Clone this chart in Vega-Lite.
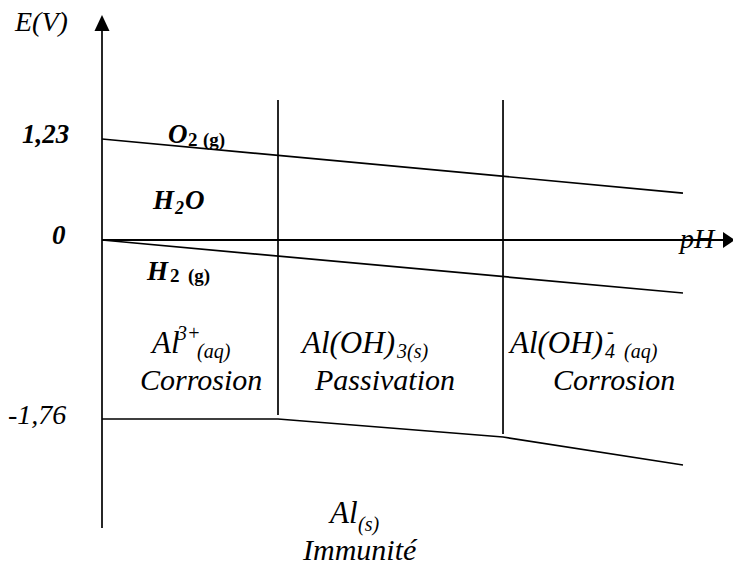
{
  "$schema": "https://vega.github.io/schema/vega-lite/v6.json",
  "width": 733,
  "height": 566,
  "autosize": {"type": "none"},
  "padding": 0,
  "background": "white",
  "config": {"view": {"stroke": null}},
  "datasets": {
    "boundaries": [
      {"boundary": "O2/H2O", "order": 1, "pH": 0, "E": 1.23},
      {"boundary": "O2/H2O", "order": 2, "pH": 14, "E": 0.572},
      {"boundary": "H2O/H2", "order": 1, "pH": 0, "E": 0},
      {"boundary": "H2O/H2", "order": 2, "pH": 14, "E": -0.521},
      {"boundary": "Al", "order": 1, "pH": 0, "E": -1.76},
      {"boundary": "Al", "order": 2, "pH": 4.241, "E": -1.76},
      {"boundary": "Al", "order": 3, "pH": 9.663, "E": -1.937},
      {"boundary": "Al", "order": 4, "pH": 14, "E": -2.212}
    ],
    "verticals": [
      {"name": "E axis", "pH": 0, "E": 2.545, "E2": -2.832},
      {"name": "Al3+/Al(OH)3", "pH": 4.241, "E": 1.705, "E2": -1.721},
      {"name": "Al(OH)3/Al(OH)4-", "pH": 9.663, "E": 1.705, "E2": -1.907}
    ],
    "haxis": [
      {"name": "pH axis", "pH": 0, "pH2": 14.964, "E": 0}
    ],
    "labels": [
      {"kind": "axis", "text": "E(V)", "pH": -2.096, "E": 2.545},
      {"kind": "axis", "text": "pH", "pH": 13.928, "E": -0.079},
      {"kind": "tickbold", "text": "1,23", "pH": -1.928, "E": 1.181},
      {"kind": "tickbold", "text": "0", "pH": -1.205, "E": -0.039},
      {"kind": "tick", "text": "-1,76", "pH": -2.265, "E": -1.809},
      {"kind": "gas", "text": "O", "pH": 1.59, "E": 1.181},
      {"kind": "gassub", "text": "2", "pH": 2.072, "E": 1.145},
      {"kind": "gassub", "text": "(g)", "pH": 2.434, "E": 1.145},
      {"kind": "gas", "text": "H", "pH": 1.229, "E": 0.378},
      {"kind": "watersub", "text": "2", "pH": 1.759, "E": 0.317},
      {"kind": "gas", "text": "O", "pH": 2.0, "E": 0.378},
      {"kind": "gas", "text": "H", "pH": 1.084, "E": -0.393},
      {"kind": "gassub", "text": "2", "pH": 1.639, "E": -0.413},
      {"kind": "gassub", "text": "(g)", "pH": 2.072, "E": -0.413},
      {"kind": "formula", "text": "Al", "pH": 1.205, "E": -1.111},
      {"kind": "formulasub", "text": "3+", "pH": 1.807, "E": -0.983},
      {"kind": "formulasub", "text": "(aq)", "pH": 2.289, "E": -1.16},
      {"kind": "domain", "text": "Corrosion", "pH": 0.916, "E": -1.475},
      {"kind": "formula", "text": "Al(OH)", "pH": 4.819, "E": -1.111},
      {"kind": "formulasub", "text": "3(s)", "pH": 7.108, "E": -1.16},
      {"kind": "domain", "text": "Passivation", "pH": 5.133, "E": -1.475},
      {"kind": "formula", "text": "Al(OH)", "pH": 9.831, "E": -1.111},
      {"kind": "formulasub", "text": "4", "pH": 12.12, "E": -1.16},
      {"kind": "formulasub", "text": "-", "pH": 12.169, "E": -0.964},
      {"kind": "formulasub", "text": "(aq)", "pH": 12.578, "E": -1.16},
      {"kind": "domain", "text": "Corrosion", "pH": 10.867, "E": -1.475},
      {"kind": "formula", "text": "Al", "pH": 5.494, "E": -2.783},
      {"kind": "formulasub", "text": "(s)", "pH": 6.169, "E": -2.861},
      {"kind": "domain", "text": "Immunité", "pH": 4.843, "E": -3.146}
    ],
    "arrows": [
      {"axis": "E", "pH": 0, "E": 2.643},
      {"axis": "pH", "pH": 15.099, "E": 0}
    ]
  },
  "layer": [
    {
      "data": {"name": "boundaries"},
      "mark": {"type": "line", "color": "black", "strokeWidth": 1.7},
      "encoding": {
        "x": {"field": "pH", "type": "quantitative", "scale": {"domain": [0, 14], "range": [102, 683], "nice": false, "zero": false}, "axis": null},
        "y": {"field": "E", "type": "quantitative", "scale": {"domain": [-1.76, 0, 1.23], "range": [419, 240, 139], "nice": false, "zero": false}, "axis": null},
        "detail": {"field": "boundary"},
        "order": {"field": "order"}
      }
    },
    {
      "data": {"name": "verticals"},
      "mark": {"type": "rule", "color": "black", "strokeWidth": 1.7},
      "encoding": {
        "x": {"field": "pH", "type": "quantitative"},
        "y": {"field": "E", "type": "quantitative"},
        "y2": {"field": "E2"}
      }
    },
    {
      "data": {"name": "haxis"},
      "mark": {"type": "rule", "color": "black", "strokeWidth": 2},
      "encoding": {
        "x": {"field": "pH", "type": "quantitative"},
        "x2": {"field": "pH2"},
        "y": {"field": "E", "type": "quantitative"}
      }
    },
    {
      "data": {"name": "arrows"},
      "transform": [{"filter": "datum.axis === 'E'"}],
      "mark": {"type": "point", "shape": "M0,-1L-0.94,1L0.94,1Z", "size": 256, "filled": true, "color": "black", "opacity": 1, "strokeWidth": 0},
      "encoding": {
        "x": {"field": "pH", "type": "quantitative"},
        "y": {"field": "E", "type": "quantitative"}
      }
    },
    {
      "data": {"name": "arrows"},
      "transform": [{"filter": "datum.axis === 'pH'"}],
      "mark": {"type": "point", "shape": "M0.8,0L-0.7,-1L-0.7,1Z", "size": 256, "filled": true, "color": "black", "opacity": 1, "strokeWidth": 0},
      "encoding": {
        "x": {"field": "pH", "type": "quantitative"},
        "y": {"field": "E", "type": "quantitative"}
      }
    },
    {
      "data": {"name": "labels"},
      "transform": [{"filter": "datum.kind === 'axis'"}],
      "mark": {"type": "text", "font": "Liberation Serif", "align": "left", "baseline": "alphabetic", "color": "black", "fontStyle": "italic", "fontSize": 28},
      "encoding": {"x": {"field": "pH", "type": "quantitative"}, "y": {"field": "E", "type": "quantitative"}, "text": {"field": "text"}}
    },
    {
      "data": {"name": "labels"},
      "transform": [{"filter": "datum.kind === 'tickbold'"}],
      "mark": {"type": "text", "font": "Liberation Serif", "align": "left", "baseline": "alphabetic", "color": "black", "fontStyle": "italic", "fontWeight": "bold", "fontSize": 27},
      "encoding": {"x": {"field": "pH", "type": "quantitative"}, "y": {"field": "E", "type": "quantitative"}, "text": {"field": "text"}}
    },
    {
      "data": {"name": "labels"},
      "transform": [{"filter": "datum.kind === 'tick'"}],
      "mark": {"type": "text", "font": "Liberation Serif", "align": "left", "baseline": "alphabetic", "color": "black", "fontStyle": "italic", "fontSize": 28},
      "encoding": {"x": {"field": "pH", "type": "quantitative"}, "y": {"field": "E", "type": "quantitative"}, "text": {"field": "text"}}
    },
    {
      "data": {"name": "labels"},
      "transform": [{"filter": "datum.kind === 'gas'"}],
      "mark": {"type": "text", "font": "Liberation Serif", "align": "left", "baseline": "alphabetic", "color": "black", "fontStyle": "italic", "fontWeight": "bold", "fontSize": 27},
      "encoding": {"x": {"field": "pH", "type": "quantitative"}, "y": {"field": "E", "type": "quantitative"}, "text": {"field": "text"}}
    },
    {
      "data": {"name": "labels"},
      "transform": [{"filter": "datum.kind === 'gassub'"}],
      "mark": {"type": "text", "font": "Liberation Serif", "align": "left", "baseline": "alphabetic", "color": "black", "fontWeight": "bold", "fontSize": 19},
      "encoding": {"x": {"field": "pH", "type": "quantitative"}, "y": {"field": "E", "type": "quantitative"}, "text": {"field": "text"}}
    },
    {
      "data": {"name": "labels"},
      "transform": [{"filter": "datum.kind === 'watersub'"}],
      "mark": {"type": "text", "font": "Liberation Serif", "align": "left", "baseline": "alphabetic", "color": "black", "fontStyle": "italic", "fontWeight": "bold", "fontSize": 18},
      "encoding": {"x": {"field": "pH", "type": "quantitative"}, "y": {"field": "E", "type": "quantitative"}, "text": {"field": "text"}}
    },
    {
      "data": {"name": "labels"},
      "transform": [{"filter": "datum.kind === 'formula'"}],
      "mark": {"type": "text", "font": "Liberation Serif", "align": "left", "baseline": "alphabetic", "color": "black", "fontStyle": "italic", "fontSize": 31},
      "encoding": {"x": {"field": "pH", "type": "quantitative"}, "y": {"field": "E", "type": "quantitative"}, "text": {"field": "text"}}
    },
    {
      "data": {"name": "labels"},
      "transform": [{"filter": "datum.kind === 'domain'"}],
      "mark": {"type": "text", "font": "Liberation Serif", "align": "left", "baseline": "alphabetic", "color": "black", "fontStyle": "italic", "fontSize": 30},
      "encoding": {"x": {"field": "pH", "type": "quantitative"}, "y": {"field": "E", "type": "quantitative"}, "text": {"field": "text"}}
    },
    {
      "data": {"name": "labels"},
      "transform": [{"filter": "datum.kind === 'formulasub'"}],
      "mark": {"type": "text", "font": "Liberation Serif", "align": "left", "baseline": "alphabetic", "color": "black", "fontStyle": "italic", "fontSize": 20},
      "encoding": {"x": {"field": "pH", "type": "quantitative"}, "y": {"field": "E", "type": "quantitative"}, "text": {"field": "text"}}
    }
  ]
}
